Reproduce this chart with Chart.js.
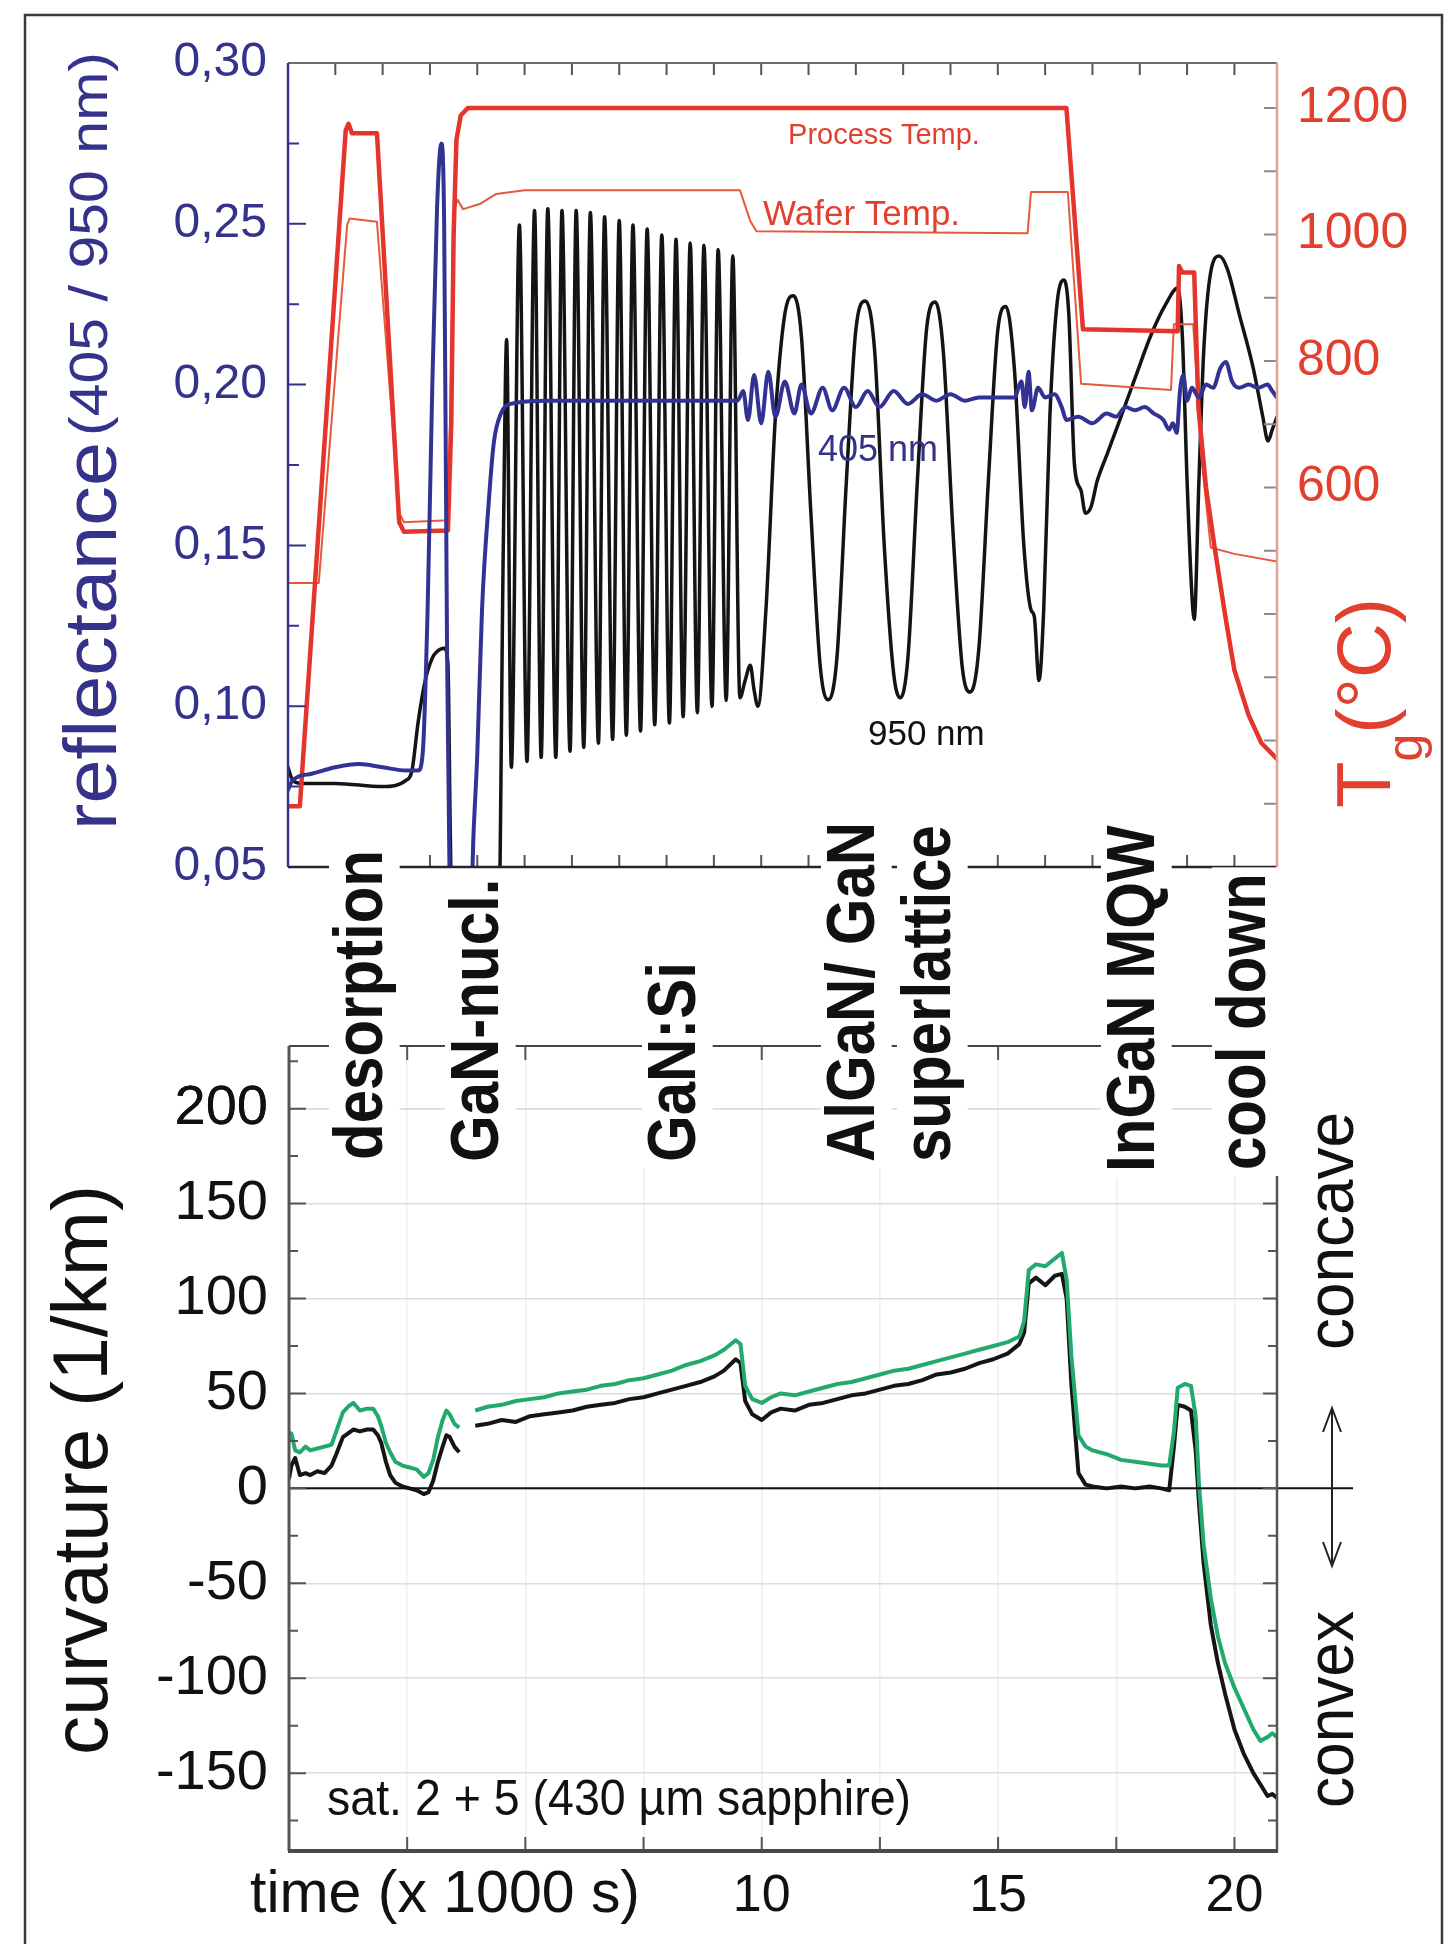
<!DOCTYPE html>
<html>
<head>
<meta charset="utf-8">
<script src="https://cdn.jsdelivr.net/npm/chart.js@4.4.1/dist/chart.umd.min.js"></script>
<style>
  html, body { margin: 0; padding: 0; background: #fff; }
  #wrap { position: relative; width: 1454px; height: 1944px; }
  #wrap canvas { position: absolute; left: 0; top: 0; }
</style>
</head>
<body>
<div id="wrap">
  <canvas id="topChart" width="1454" height="1944"></canvas>
  <canvas id="bottomChart" width="1454" height="1944"></canvas>
  <canvas id="overlay" width="1454" height="1944"></canvas>
</div>
<script>
// ---- data (time in 1000 s) ----

// reflectance at 405 nm
const time405 = [0, 0.1, 0.5, 1.0, 1.5, 2.0, 2.5, 2.75, 2.85, 2.95, 3.05, 3.15, 3.24, 3.30, 3.36, 3.42, 3.5, 3.85, 3.92, 4.0,
  4.1, 4.25, 4.35, 4.5, 4.7, 5.5, 7.0, 8.5, 9.5, 9.62, 9.72, 9.85, 10.0, 10.15, 10.3, 10.5, 10.7, 10.85, 11.05, 11.3,
  11.5, 11.75, 12.0, 12.25, 12.5, 12.8, 13.1, 13.4, 13.7, 14.0, 14.3, 14.6, 15.0, 15.35, 15.5, 15.57, 15.65, 15.72, 15.85, 16.0,
  16.2, 16.35, 16.45, 16.7, 17.0, 17.3, 17.5, 17.7, 17.9, 18.1, 18.3, 18.5, 18.62, 18.7, 18.78, 18.85, 18.92, 19.0, 19.1, 19.25,
  19.4, 19.55, 19.7, 19.82, 19.95, 20.1, 20.3, 20.5, 20.7, 20.8, 20.9];
const refl405 = [0.074, 0.077, 0.079, 0.081, 0.082, 0.081, 0.080, 0.080, 0.086, 0.13, 0.20, 0.255, 0.275, 0.25, 0.12, 0.04, 0.03, 0.03, 0.06, 0.085,
  0.13, 0.165, 0.182, 0.191, 0.194, 0.195, 0.195, 0.195, 0.195, 0.198, 0.189, 0.203, 0.188, 0.204, 0.190, 0.201, 0.191, 0.200, 0.191, 0.199,
  0.192, 0.199, 0.193, 0.198, 0.193, 0.198, 0.194, 0.197, 0.195, 0.197, 0.195, 0.196, 0.196, 0.196, 0.201, 0.193, 0.204, 0.192, 0.199, 0.196,
  0.197, 0.193, 0.189, 0.190, 0.188, 0.191, 0.190, 0.193, 0.192, 0.193, 0.191, 0.189, 0.186, 0.188, 0.185, 0.198, 0.203, 0.195, 0.199, 0.196,
  0.200, 0.199, 0.205, 0.207, 0.201, 0.199, 0.200, 0.199, 0.200, 0.198, 0.196];

// reflectance at 950 nm
const time950 = [0, 0.1, 0.3, 1.0, 2.0, 2.5, 2.62, 2.75, 2.9, 3.05, 3.15, 3.3, 3.38, 3.43, 3.47, 4.45, 4.55, 4.62, 4.72,
  4.89, 5.05, 5.21, 5.35, 5.49, 5.66, 5.79, 5.96, 6.09, 6.25, 6.39, 6.56, 6.69, 6.86, 7.0, 7.15, 7.29, 7.45, 7.59, 7.75,
  7.90, 8.06, 8.20, 8.35, 8.50, 8.65, 8.79, 8.96, 9.09, 9.26, 9.40,
  9.55, 9.66, 9.77, 9.85, 9.93, 10.1, 10.3, 10.5, 10.68, 10.85, 11.05, 11.25, 11.42,
  11.6, 11.8, 12.0, 12.2, 12.4, 12.6, 12.8, 12.94, 13.1, 13.3, 13.5, 13.68, 13.85, 14.05, 14.25, 14.42,
  14.6, 14.8, 15.0, 15.17, 15.35, 15.55, 15.7, 15.77, 15.87, 15.97, 16.1, 16.25, 16.4, 16.5, 16.62, 16.76, 16.85, 16.97,
  17.1, 17.3, 17.54, 17.9, 18.24, 18.55, 18.8, 18.9, 19.0, 19.1, 19.15,
  19.25, 19.35, 19.5, 19.68, 19.85, 20.1, 20.4, 20.6, 20.71, 20.8, 20.9];
const refl950 = [0.081, 0.077, 0.076, 0.076, 0.075, 0.077, 0.080, 0.095, 0.108, 0.115, 0.117, 0.118, 0.113, 0.06, 0.03, 0.03, 0.15, 0.214, 0.081,
  0.2496, 0.0828, 0.2541, 0.0841, 0.2547, 0.0841, 0.2541, 0.086, 0.2541, 0.0872, 0.2535, 0.0885, 0.2522, 0.0897, 0.251, 0.091, 0.2496, 0.0923, 0.2484, 0.0942,
  0.2465, 0.0948, 0.2452, 0.0967, 0.244, 0.098, 0.2433, 0.0999, 0.242, 0.1018, 0.2401,
  0.1026, 0.108, 0.1127, 0.105, 0.100, 0.13, 0.19, 0.222, 0.2276, 0.215, 0.16, 0.112, 0.102,
  0.115, 0.17, 0.217, 0.226, 0.21, 0.15, 0.11, 0.1026, 0.115, 0.17, 0.218, 0.2257, 0.21, 0.155, 0.112, 0.1044,
  0.118, 0.17, 0.217, 0.2243, 0.205, 0.15, 0.13, 0.128, 0.108, 0.13, 0.19, 0.225, 0.2325, 0.222, 0.175, 0.167, 0.160, 0.162,
  0.170, 0.178, 0.1875, 0.202, 0.2155, 0.225, 0.230, 0.215, 0.17, 0.135, 0.127,
  0.17, 0.21, 0.235, 0.240, 0.236, 0.222, 0.205, 0.19, 0.1825, 0.186, 0.19];

// process temperature (°C)
const timeProcess = [0, 0.25, 1.22, 1.28, 1.35, 1.88, 2.35, 2.45, 3.38, 3.45, 3.5, 3.56, 3.65, 3.8, 16.45, 16.8, 18.8, 18.83, 18.9, 19.15,
  19.24, 19.4, 19.58, 19.8, 20.0, 20.3, 20.57, 20.9];
const tempProcess = [96, 96, 1165, 1175, 1160, 1160, 545, 530, 532, 700, 1000, 1150, 1188, 1200, 1200, 850, 847, 950, 940, 940,
  726, 600, 506, 400, 311, 240, 196, 171];

// wafer temperature (°C)
const timeWafer = [0, 0.65, 1.25, 1.3, 1.88, 2.35, 2.45, 3.38, 3.45, 3.52, 3.58, 3.7, 4.05, 4.4, 5.0, 9.55, 9.77, 9.9, 15.63, 15.7,
  16.48, 16.76, 18.66, 18.72, 19.13, 19.3, 19.5, 20.0, 20.9];
const tempWafer = [449, 449, 1015, 1025, 1020, 560, 545, 548, 800, 1040, 1055, 1040, 1048, 1064, 1070, 1070, 1021, 1005, 1002, 1067,
  1067, 764, 754, 858, 858, 650, 505, 495, 483];

// wafer curvature (1/km), null = no data
const timeCurv = [0, 0.05, 0.13, 0.23, 0.35, 0.45, 0.6, 0.75, 0.9, 1.0, 1.14, 1.25, 1.36, 1.5, 1.65, 1.78, 1.88, 1.95, 2.05, 2.14,
  2.25, 2.4, 2.55, 2.7, 2.85, 2.95, 3.05, 3.15, 3.25, 3.33, 3.4, 3.5, 3.6, 3.8, 3.94, 4.2, 4.5, 4.8, 5.1, 5.4,
  5.7, 6.0, 6.3, 6.6, 6.9, 7.2, 7.5, 7.8, 8.1, 8.4, 8.7, 9.0, 9.2, 9.45, 9.55, 9.65, 9.8, 10.0, 10.2, 10.4,
  10.7, 11.0, 11.3, 11.6, 11.9, 12.2, 12.5, 12.8, 13.1, 13.4, 13.7, 14.0, 14.3, 14.6, 14.9, 15.2, 15.45, 15.55, 15.65, 15.8,
  16.0, 16.2, 16.35, 16.45, 16.55, 16.7, 16.85, 17.0, 17.3, 17.6, 17.9, 18.2, 18.45, 18.62, 18.72, 18.8, 18.95, 19.08, 19.18, 19.25,
  19.35, 19.5, 19.65, 19.8, 20.0, 20.2, 20.4, 20.55, 20.7, 20.8, 20.9];
const curvBlack = [5, 12, 16, 7, 8, 7, 9, 8, 12, 18, 27, 29, 31, 30, 31, 31, 28, 24, 14, 7,
  3, 1, 0, -1, -3, -2, 4, 14, 22, 28, 27, 22, 19, null, 33, 34, 36, 35, 38, 39,
  40, 41, 43, 44, 45, 47, 48, 50, 52, 54, 56, 59, 62, 68, 66, 46, 39, 36, 40, 42,
  41, 44, 45, 47, 49, 50, 52, 54, 55, 57, 60, 61, 63, 66, 68, 71, 76, 82, 108, 111,
  107, 112, 113, 100, 55, 8, 2, 1, 0, 1, 0, 1, 0, -1, 22, 44, 43, 41, 20, -8,
  -40, -72, -92, -108, -127, -140, -150, -156, -162, -161, -163];
const curvGreen = [25, 29, 20, 19, 22, 20, 21, 22, 23, 30, 40, 43, 45, 41, 42, 42, 38, 33, 24, 19,
  14, 12, 11, 10, 6, 8, 15, 27, 36, 41, 39, 34, 32, null, 41, 43, 44, 46, 47, 48,
  50, 51, 52, 54, 55, 57, 58, 60, 62, 65, 67, 70, 73, 78, 76, 54, 47, 45, 48, 50,
  49, 51, 53, 55, 56, 58, 60, 62, 63, 65, 67, 69, 71, 73, 75, 77, 80, 88, 115, 118,
  117, 121, 124, 110, 70, 28, 22, 20, 18, 15, 14, 13, 12, 12, 30, 53, 55, 54, 38, 2,
  -30, -58, -78, -92, -105, -116, -127, -133, -131, -129, -131];

// axis ticks
const reflTicks = [0.05, 0.10, 0.15, 0.20, 0.25, 0.30];
const reflMinor = [0.075, 0.125, 0.175, 0.225, 0.275];
const tempLabels = [600, 800, 1000, 1200];
const tempMarks = [100, 200, 300, 400, 500, 600, 700, 800, 900, 1000, 1100, 1200];
const timeMarksTop = [1, 2, 3, 4, 5, 6, 7, 8, 9, 10, 11, 12, 13, 14, 15, 16, 17, 18, 19, 20];
const timeTicks = [0, 2.5, 5, 7.5, 10, 12.5, 15, 17.5, 20];
const timeLabels = [10, 15, 20];
const curvTicks = [-150, -100, -50, 0, 50, 100, 150, 200];
const curvMinor = [-175, -125, -75, -25, 25, 75, 125, 175, 225];

// phase names written between the two panels
const phaseNames = ['desorption', 'GaN-nucl.', 'GaN:Si', 'AlGaN/ GaN', 'superlattice', 'InGaN MQW', 'cool down'];

// ---- styling ----
const SANS = "'Liberation Sans', Arial, Helvetica, sans-serif";
const NAVY = '#34328a';
const RED = '#e4342b';
const RED_TXT = '#e2402f';
const GREEN = '#22a96d';

// use a narrow face for some tick labels when it is installed
function fontAvailable(name) {
  const c = document.createElement('canvas').getContext('2d');
  c.font = '40px monospace';
  const a = c.measureText('0,30 1200 abc').width;
  c.font = '40px "' + name + '", monospace';
  const b = c.measureText('0,30 1200 abc').width;
  return a !== b;
}
const HAS_NARROW = fontAvailable('Liberation Sans Narrow');
const NARROW = HAS_NARROW ? "'Liberation Sans Narrow', sans-serif" : SANS;

function pts(xs, ys) {
  return xs.map((x, i) => ({ x: x, y: ys[i] }));
}

function hTicks(ctx, scale, values, x0, len, color, lw) {
  ctx.save();
  ctx.strokeStyle = color;
  ctx.lineWidth = lw;
  ctx.beginPath();
  values.forEach(v => {
    const y = scale.getPixelForValue(v);
    ctx.moveTo(x0, y);
    ctx.lineTo(x0 + len, y);
  });
  ctx.stroke();
  ctx.restore();
}

function vTicks(ctx, scale, values, y0, len, color, lw) {
  ctx.save();
  ctx.strokeStyle = color;
  ctx.lineWidth = lw;
  ctx.beginPath();
  values.forEach(v => {
    const x = scale.getPixelForValue(v);
    ctx.moveTo(x, y0);
    ctx.lineTo(x, y0 + len);
  });
  ctx.stroke();
  ctx.restore();
}

function seg(ctx, x1, y1, x2, y2, color, lw) {
  ctx.save();
  ctx.strokeStyle = color;
  ctx.lineWidth = lw;
  ctx.beginPath();
  ctx.moveTo(x1, y1);
  ctx.lineTo(x2, y2);
  ctx.stroke();
  ctx.restore();
}

// text helper: optional rotation, stretch to a target length or by a factor
function drawText(ctx, txt, x, y, opt) {
  ctx.save();
  ctx.translate(x, y);
  if (opt.rotate) ctx.rotate(opt.rotate);
  ctx.font = opt.font;
  ctx.fillStyle = opt.color || '#111';
  ctx.textAlign = opt.align || 'left';
  ctx.textBaseline = opt.baseline || 'alphabetic';
  const w = ctx.measureText(txt).width;
  let sx = opt.sx || 1;
  if (opt.width) sx = opt.width / w;
  ctx.scale(sx, 1);
  if (opt.box) {
    const size = opt.size;
    ctx.fillStyle = '#fff';
    ctx.fillRect(-6 / sx, -0.78 * size, w + 12 / sx, 0.78 * size + 0.26 * size);
    ctx.fillStyle = opt.color || '#111';
  }
  ctx.fillText(txt, 0, 0);
  ctx.restore();
  return w * sx;
}

const UP = -Math.PI / 2;

// ---- top panel: reflectance + temperatures ----
const topDecor = {
  id: 'topDecor',
  afterDraw(chart) {
    const { ctx, chartArea: a, scales } = chart;
    hTicks(ctx, scales.y, reflTicks, a.left, 18, NAVY, 2);
    hTicks(ctx, scales.y, reflMinor, a.left, 11, NAVY, 2);
    hTicks(ctx, scales.yT, tempMarks, a.right, -13, '#8a8a8a', 2);
    vTicks(ctx, scales.x, timeMarksTop, a.top, 12, '#555', 2);
    vTicks(ctx, scales.x, timeMarksTop, a.bottom, -12, '#555', 2);
    seg(ctx, a.left, a.top, a.right, a.top, '#6d6d6d', 2);
    seg(ctx, a.left, a.bottom, a.right, a.bottom, '#262626', 2.5);
    seg(ctx, a.right, a.top, a.right, a.bottom, '#e6a08e', 2.5);
    seg(ctx, a.left, a.top, a.left, a.bottom, NAVY, 2.5);
  }
};

new Chart(document.getElementById('topChart').getContext('2d'), {
  type: 'line',
  data: {
    datasets: [
      { label: '405 nm', data: pts(time405, refl405), yAxisID: 'y', borderColor: '#323295', borderWidth: 4,
        cubicInterpolationMode: 'monotone' },
      { label: 'Process Temp.', data: pts(timeProcess, tempProcess), yAxisID: 'yT', borderColor: RED, borderWidth: 4.5,
        tension: 0 },
      { label: 'Wafer Temp.', data: pts(timeWafer, tempWafer), yAxisID: 'yT', borderColor: '#e65a3c', borderWidth: 2,
        tension: 0 },
      { label: '950 nm', data: pts(time950, refl950), yAxisID: 'y', borderColor: '#141414', borderWidth: 3.5,
        cubicInterpolationMode: 'monotone' }
    ]
  },
  options: {
    responsive: false,
    animation: false,
    devicePixelRatio: 1,
    layout: { padding: { top: 63, left: 0, right: 0, bottom: 0 } },
    elements: { point: { radius: 0 }, line: { borderCapStyle: 'round', borderJoinStyle: 'round' } },
    plugins: { legend: { display: false }, tooltip: { enabled: false } },
    scales: {
      x: {
        type: 'linear', min: 0, max: 20.9,
        ticks: { display: false },
        grid: { display: false },
        border: { display: false },
        afterFit: s => { s.height = 1944 - 867; }
      },
      y: {
        position: 'left', min: 0.05, max: 0.30,
        afterBuildTicks: s => { s.ticks = reflTicks.map(v => ({ value: v })); },
        ticks: {
          color: NAVY, padding: 21,
          font: { family: NARROW, size: HAS_NARROW ? 58 : 48 },
          callback: v => v.toFixed(2).replace('.', ',')
        },
        grid: { display: false, drawTicks: false },
        border: { display: false },
        afterFit: s => { s.width = 288; }
      },
      yT: {
        position: 'right', min: 0, max: 1271,
        afterBuildTicks: s => { s.ticks = tempLabels.map(v => ({ value: v })); },
        ticks: {
          color: RED_TXT, padding: 20,
          font: { family: NARROW, size: HAS_NARROW ? 60 : 50 },
          callback: v => String(v)
        },
        grid: { display: false, drawTicks: false },
        border: { display: false },
        afterFit: s => { s.width = 1454 - 1277; }
      }
    }
  },
  plugins: [topDecor]
});

// ---- bottom panel: curvature ----
const bottomDecor = {
  id: 'bottomDecor',
  afterDraw(chart) {
    const { ctx, chartArea: a, scales } = chart;
    const y0 = scales.y.getPixelForValue(0);
    seg(ctx, a.left, y0, 1353, y0, '#111', 2);
    hTicks(ctx, scales.y, curvTicks.concat([200]), a.left, 17, '#555', 2);
    hTicks(ctx, scales.y, curvMinor, a.left, 9, '#555', 2);
    hTicks(ctx, scales.y, curvTicks, a.right, -14, '#555', 2);
    hTicks(ctx, scales.y, curvMinor, a.right, -9, '#555', 2);
    vTicks(ctx, scales.x, timeTicks.slice(1), a.top, 14, '#555', 2);
    vTicks(ctx, scales.x, timeTicks.slice(1), a.bottom, -14, '#555', 2);
    seg(ctx, a.left, a.top, a.right, a.top, '#444', 2);
    seg(ctx, a.right, a.top, a.right, a.bottom, '#555', 2.5);
    seg(ctx, a.left, a.top, a.left, a.bottom, '#555', 3);
    seg(ctx, a.left - 1, a.bottom, a.right + 1, a.bottom, '#4a4a4a', 4);

    // concave / convex double arrow
    const ax = 1332, ya = 1408, yb = 1566;
    ctx.save();
    ctx.strokeStyle = '#222';
    ctx.lineWidth = 2;
    ctx.beginPath();
    ctx.moveTo(ax, ya); ctx.lineTo(ax, yb);
    ctx.moveTo(ax - 9, ya + 24); ctx.lineTo(ax, ya); ctx.lineTo(ax + 9, ya + 24);
    ctx.moveTo(ax - 9, yb - 24); ctx.lineTo(ax, yb); ctx.lineTo(ax + 9, yb - 24);
    ctx.stroke();
    ctx.restore();
  }
};

new Chart(document.getElementById('bottomChart').getContext('2d'), {
  type: 'line',
  data: {
    datasets: [
      { label: 'curvature (green)', data: pts(timeCurv, curvGreen), borderColor: GREEN, borderWidth: 4, tension: 0 },
      { label: 'curvature (black)', data: pts(timeCurv, curvBlack), borderColor: '#151515', borderWidth: 4, tension: 0 }
    ]
  },
  options: {
    responsive: false,
    animation: false,
    devicePixelRatio: 1,
    layout: { padding: { top: 1046, left: 0, right: 1454 - 1277, bottom: 0 } },
    elements: { point: { radius: 0 }, line: { borderJoinStyle: 'round' } },
    plugins: { legend: { display: false }, tooltip: { enabled: false } },
    scales: {
      x: {
        type: 'linear', min: 0, max: 20.9,
        afterBuildTicks: s => { s.ticks = timeTicks.map(v => ({ value: v })); },
        ticks: {
          color: '#111', padding: 14, autoSkip: false, maxRotation: 0,
          font: { family: NARROW, size: HAS_NARROW ? 60 : 52 },
          callback: v => (timeLabels.includes(v) ? String(v) : '')
        },
        grid: { color: '#efefef', lineWidth: 1.5, drawTicks: false },
        border: { display: false },
        afterFit: s => { s.height = 1944 - 1851; }
      },
      y: {
        min: -191, max: 233,
        afterBuildTicks: s => { s.ticks = curvTicks.concat([200]).map(v => ({ value: v })); },
        ticks: { color: '#111', padding: 21, font: { family: SANS, size: 56 } },
        grid: { color: '#dcdcdc', lineWidth: 1.5, drawTicks: false },
        border: { display: false },
        afterFit: s => { s.width = 289; }
      }
    }
  },
  plugins: [bottomDecor]
});

// ---- overlay: frame, axis titles, annotations, phase labels ----
const ov = document.getElementById('overlay').getContext('2d');

ov.save();
ov.strokeStyle = '#3a3a3a';
ov.lineWidth = 2.5;
ov.beginPath();
ov.moveTo(25, 1944); ov.lineTo(25, 15); ov.lineTo(1442, 15); ov.lineTo(1442, 1944);
ov.stroke();
ov.restore();

// left title, top panel
drawText(ov, 'reflectance', 116, 830, { rotate: UP, font: '74px ' + SANS, color: NAVY, width: 388 });
drawText(ov, '(405 / 950 nm)', 107, 436, { rotate: UP, font: '54px ' + SANS, color: NAVY, width: 384 });

// right title, top panel: T_g(°C)
let yStart = 808;
yStart -= drawText(ov, 'T', 1390, yStart, { rotate: UP, font: '76px ' + SANS, color: RED_TXT });
yStart -= drawText(ov, 'g', 1422, yStart, { rotate: UP, font: '50px ' + SANS, color: RED_TXT });
drawText(ov, '(°C)', 1390, yStart, { rotate: UP, font: '76px ' + SANS, color: RED_TXT });

// curve annotations
drawText(ov, 'Process Temp.', 884, 144, { font: '29px ' + SANS, color: RED_TXT, align: 'center' });
drawText(ov, 'Wafer Temp.', 763, 225, { font: '35px ' + SANS, color: RED_TXT });
drawText(ov, '405 nm', 818, 461, { font: '36px ' + SANS, color: NAVY });
drawText(ov, '950 nm', 868, 745, { font: '35px ' + SANS, color: '#111' });

// bottom panel titles
drawText(ov, 'curvature (1/km)', 107, 1755, { rotate: UP, font: '78px ' + SANS, color: '#111', width: 570 });
drawText(ov, 'time (x 1000 s)', 250, 1912, { font: '60px ' + SANS, color: '#111', width: 390 });
drawText(ov, 'sat. 2 + 5 (430 µm sapphire)', 327, 1815, { font: '50px ' + SANS, color: '#111', width: 584 });
drawText(ov, 'concave', 1353, 1350, { rotate: UP, font: '66px ' + SANS, color: '#111', width: 238 });
drawText(ov, 'convex', 1353, 1808, { rotate: UP, font: '66px ' + SANS, color: '#111', width: 197 });

// phase labels (baseline x, start y): tall bold glyphs, slightly condensed
const phasePos = [[382, 1160], [498, 1162], [695, 1162], [874, 1162], [950, 1162], [1154, 1172], [1265, 1170]];
phaseNames.forEach((name, i) => {
  drawText(ov, name, phasePos[i][0], phasePos[i][1], {
    rotate: UP, font: 'bold 68px ' + SANS, size: 68, color: '#111', box: true, sx: 60 / 68
  });
});
</script>
</body>
</html>
